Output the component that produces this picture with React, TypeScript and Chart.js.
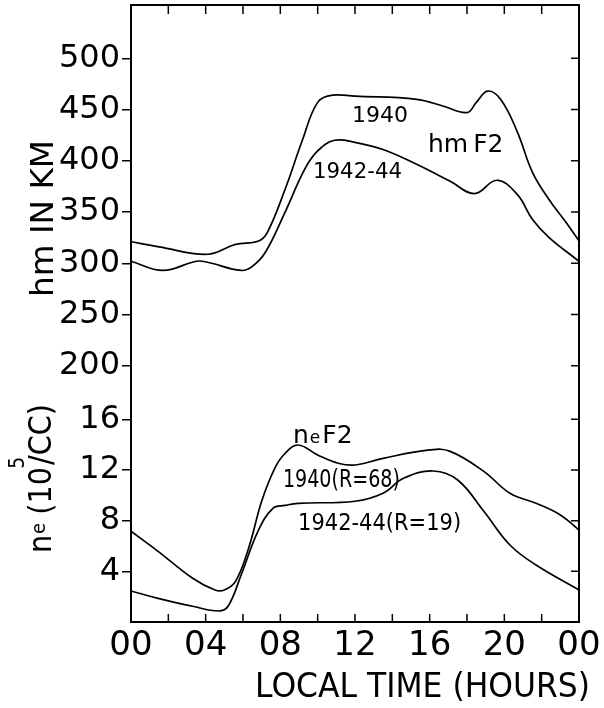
import React, { useEffect, useRef } from 'react';
import { Chart, registerables } from 'chart.js';

Chart.register(...registerables);

// ---------- data ----------
const HM_1940_HOURS = [0, 1.5, 4.1, 5.6, 6.8, 7.3, 8.25, 9.2, 10, 10.8, 12, 15.3, 16.7, 18, 18.5, 19.1, 19.8, 20.7, 21.5, 22.4, 23.3, 24];
const HM_1940 = [321, 316, 308.8, 318.5, 321.5, 330, 372, 421, 457, 464, 463, 460, 453.5, 447, 457, 468, 460, 428, 389, 362, 340, 322];

const HM_1942_HOURS = [0, 1.7, 3.5, 4.1, 5.9, 6.5, 7.2, 8.25, 9.3, 10, 10.9, 12, 13.5, 15.3, 17.1, 18.4, 19.6, 20.7, 21.5, 22.4, 24];
const HM_1942 = [302, 293, 302, 301, 293, 297, 310.7, 349.7, 391.7, 409.6, 420, 418, 411, 396.6, 380, 368, 381, 367, 343, 325, 302];

const NE_1940_HOURS = [0, 1.45, 3.3, 4.5, 5.0, 5.6, 6.3, 7.0, 7.7, 8.25, 8.95, 10, 11.1, 12, 13.5, 16, 17.1, 18.9, 20.3, 21.7, 23, 24];
const NE_1940 = [7.16, 5.58, 3.45, 2.53, 2.53, 3.21, 5.82, 9.53, 12.13, 13.3, 13.97, 13.18, 12.53, 12.39, 12.92, 13.58, 13.47, 11.89, 10.16, 9.37, 8.45, 7.26];

const NE_1942_HOURS = [0, 1.45, 3.3, 4.7, 5.2, 5.9, 6.8, 7.6, 8.25, 8.95, 12, 13.5, 14.6, 16.2, 17.5, 18.9, 20.3, 21.7, 24];
const NE_1942 = [2.45, 1.87, 1.24, 0.87, 1.24, 3.71, 7.16, 8.97, 9.2, 9.37, 9.53, 10.16, 11.34, 11.92, 11.21, 8.74, 6.08, 4.5, 2.53];

const HM_TICKS = [200, 250, 300, 350, 400, 450, 500];
const NE_TICKS = [4, 8, 12, 16];
const MINOR_HOURS = [2, 4, 6, 8, 10, 12, 14, 16, 18, 20, 22];

const HM_MIN = -50;
const HM_MAX = 552;
const NE_MIN = 0;
const NE_MAX = 48.7;

const FONT = '"DejaVu Sans", sans-serif';

const pts = (hs: number[], vs: number[]) => hs.map((h, i) => ({ x: h, y: vs[i] }));
const neToHm = (n: number) => HM_MIN + ((n - NE_MIN) / (NE_MAX - NE_MIN)) * (HM_MAX - HM_MIN);

type Part = { t: string; size: number; dy?: number; gap?: number };

function partsWidth(ctx: CanvasRenderingContext2D, parts: Part[]) {
  let w = 0;
  for (const p of parts) {
    ctx.font = `${p.size}px ${FONT}`;
    w += ctx.measureText(p.t).width + (p.gap || 0);
  }
  return w;
}

function drawParts(ctx: CanvasRenderingContext2D, parts: Part[], x: number, y: number, rotate: boolean, targetWidth?: number) {
  const w = partsWidth(ctx, parts);
  const sx = targetWidth ? targetWidth / w : 1;
  ctx.save();
  ctx.translate(x, y);
  if (rotate) ctx.rotate(-Math.PI / 2);
  ctx.scale(sx, 1);
  ctx.textAlign = 'left';
  ctx.textBaseline = 'alphabetic';
  ctx.fillStyle = '#000';
  let cx = 0;
  for (const p of parts) {
    ctx.font = `${p.size}px ${FONT}`;
    ctx.fillText(p.t, cx, p.dy || 0);
    cx += ctx.measureText(p.t).width + (p.gap || 0);
  }
  ctx.restore();
}

// annotation placements (hour of left edge, baseline value on its axis)
const ANNOTATIONS: { parts: Part[]; hour: number; value: number; axis: 'y' | 'yNe'; width?: number }[] = [
  { parts: [{ t: '1940', size: 22 }], hour: 11.84, value: 437.9, axis: 'y' },
  { parts: [{ t: 'hm', size: 25, gap: 5 }, { t: 'F2', size: 25 }], hour: 15.91, value: 408.6, axis: 'y' },
  { parts: [{ t: '1942-44', size: 22 }], hour: 9.75, value: 383.2, axis: 'y', width: 89 },
  { parts: [{ t: 'n', size: 25, gap: 1 }, { t: 'e', size: 17, gap: 2 }, { t: 'F2', size: 25 }], hour: 8.68, value: 14.13, axis: 'yNe' },
  { parts: [{ t: '1940(R=68)', size: 24 }], hour: 8.14, value: 10.66, axis: 'yNe', width: 117 },
  { parts: [{ t: '1942-44(R=19)', size: 23 }], hour: 8.95, value: 7.26, axis: 'yNe', width: 163 },
];

const decorPlugin = {
  id: 'decor',
  afterDraw(chart: any) {
    const { ctx, chartArea: a, scales } = chart;
    const xs = scales.x;
    const ys = scales.y;
    ctx.save();
    ctx.strokeStyle = '#000';
    ctx.lineWidth = 2;
    ctx.strokeRect(a.left, a.top, a.right - a.left, a.bottom - a.top);
    ctx.lineWidth = 1.5;
    ctx.beginPath();
    for (const h of MINOR_HOURS) {
      const px = xs.getPixelForValue(h);
      ctx.moveTo(px, a.top);
      ctx.lineTo(px, a.top + 9);
      ctx.moveTo(px, a.bottom);
      ctx.lineTo(px, a.bottom - 8);
    }
    for (const t of ys.ticks) {
      const py = ys.getPixelForValue(t.value);
      ctx.moveTo(a.right, py);
      ctx.lineTo(a.right - 8, py);
    }
    ctx.stroke();
    ctx.restore();

    for (const an of ANNOTATIONS) {
      const px = xs.getPixelForValue(an.hour);
      const py = scales[an.axis].getPixelForValue(an.value);
      drawParts(ctx, an.parts, px, py, false, an.width);
    }

    // axis titles
    drawParts(ctx, [{ t: 'hm IN KM', size: 32 }], 53, 297, true, 157);
    drawParts(
      ctx,
      [
        { t: 'n', size: 32, gap: 1 },
        { t: 'e', size: 20, dy: -6, gap: 9 },
        { t: '(10', size: 32, gap: -2 },
        { t: '5', size: 21, dy: -27, gap: -9 },
        { t: '/CC)', size: 32 },
      ],
      51,
      553,
      true,
      149
    );
    drawParts(ctx, [{ t: 'LOCAL TIME (HOURS)', size: 34 }], 255, 697, false, 335);
  },
};

let yTickLabels: string[] = [];

export default function App() {
  const ref = useRef<HTMLCanvasElement>(null);
  useEffect(() => {
    if (!ref.current) return;
    Chart.defaults.font.family = FONT;
    const lineStyle = {
      borderColor: '#000',
      borderWidth: 1.7,
      pointRadius: 0,
      fill: false,
      tension: 0.4,
    };
    const chart = new Chart(ref.current, {
      type: 'line',
      data: {
        datasets: [
          { label: 'hmF2 1940', data: pts(HM_1940_HOURS, HM_1940), yAxisID: 'y', ...lineStyle },
          { label: 'hmF2 1942-44', data: pts(HM_1942_HOURS, HM_1942), yAxisID: 'y', ...lineStyle },
          { label: 'neF2 1940 (R=68)', data: pts(NE_1940_HOURS, NE_1940), yAxisID: 'yNe', ...lineStyle },
          { label: 'neF2 1942-44 (R=19)', data: pts(NE_1942_HOURS, NE_1942), yAxisID: 'yNe', ...lineStyle },
        ],
      },
      options: {
        animation: false,
        responsive: false,
        events: [],
        layout: { padding: { left: 0, top: 5, right: 25, bottom: 0 } },
        plugins: { legend: { display: false }, tooltip: { enabled: false } },
        scales: {
          x: {
            type: 'linear',
            position: 'bottom',
            min: 0,
            max: 24,
            border: { display: false },
            grid: { drawOnChartArea: false, drawTicks: false },
            ticks: {
              stepSize: 4,
              autoSkip: false,
              maxRotation: 0,
              padding: 4,
              color: '#000',
              font: { size: 34, family: FONT },
              callback: (v: any) => {
                const h = Number(v) % 24;
                return h < 10 ? '0' + h : String(h);
              },
            },
            afterFit: (s: any) => {
              s.height = 86;
              s.paddingLeft = 0;
              s.paddingRight = 0;
            },
          },
          y: {
            type: 'linear',
            position: 'left',
            min: HM_MIN,
            max: HM_MAX,
            border: { display: false },
            grid: { drawOnChartArea: false, drawTicks: true, tickLength: 9, color: '#000', lineWidth: 1.5 },
            afterBuildTicks: (s: any) => {
              const items = [
                ...NE_TICKS.map((n) => ({ value: neToHm(n), label: String(n) })),
                ...HM_TICKS.map((h) => ({ value: h, label: String(h) })),
              ].sort((p, q) => p.value - q.value);
              yTickLabels = items.map((i) => i.label);
              s.ticks = items.map((i) => ({ value: i.value }));
            },
            ticks: {
              autoSkip: false,
              padding: 2,
              color: '#000',
              font: { size: 32, family: FONT },
              callback: (_v: any, i: number) => yTickLabels[i],
            },
            afterFit: (s: any) => {
              s.width = 131;
              s.paddingTop = 0;
              s.paddingBottom = 0;
            },
          },
          yNe: {
            type: 'linear',
            display: false,
            min: NE_MIN,
            max: NE_MAX,
          },
        },
      },
      plugins: [decorPlugin],
    });
    return () => chart.destroy();
  }, []);
  return (
    <div style={{ position: 'fixed', left: 0, top: 0, width: 604, height: 708, background: '#fff' }}>
      <canvas ref={ref} width={604} height={708} style={{ width: 604, height: 708, display: 'block' }} />
    </div>
  );
}
